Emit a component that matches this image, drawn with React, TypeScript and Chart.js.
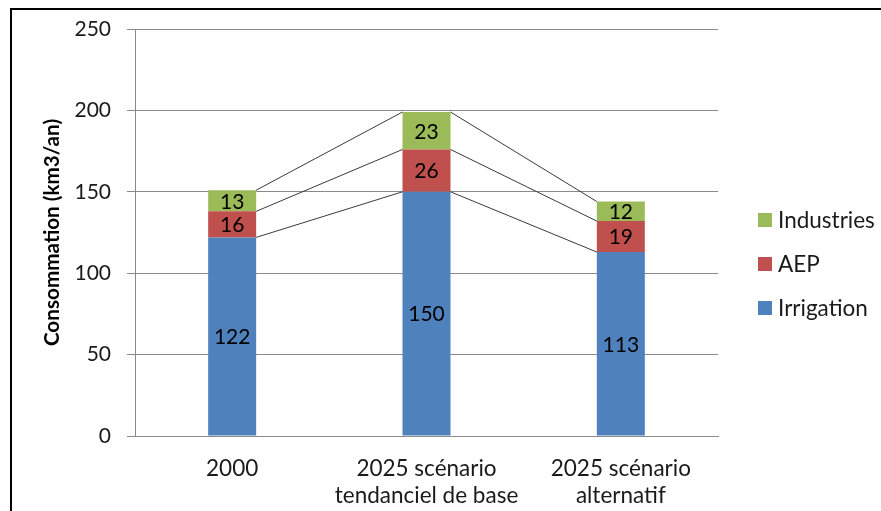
import React, { useEffect, useRef } from 'react';
import { Chart, registerables } from 'chart.js';

Chart.register(...registerables);

// Water consumption (km3/an) by use, for 2000 and the two 2025 scenarios
const categories: string[][] = [
  ['2000'],
  ['2025 scénario', 'tendanciel de base'],
  ['2025 scénario', 'alternatif'],
];
const seriesNames = ['Irrigation', 'AEP', 'Industries'];
const irrigation = [122, 150, 113];
const aep = [16, 26, 19];
const industries = [13, 23, 12];
const seriesColors = ['#4F81BD', '#C0504D', '#9BBB59'];
const yMax = 250;
const yStep = 50;
const yTitle = 'Consommation (km3/an)';

const FONT = 'Lato, "Open Sans", sans-serif';
const TEXT = '#1a1a1a';
const GRID = '#8a8a8a';

// Thin lines joining the top of each series from one bar to the next
const seriesLinesPlugin = {
  id: 'seriesLines',
  afterDatasetsDraw(chart: any) {
    const { ctx } = chart;
    ctx.save();
    ctx.strokeStyle = '#3a3a3a';
    ctx.lineWidth = 1;
    chart.data.datasets.forEach((_: any, i: number) => {
      const meta = chart.getDatasetMeta(i);
      if (meta.hidden) return;
      for (let j = 0; j < meta.data.length - 1; j++) {
        const a = meta.data[j].getProps(['x', 'y', 'width'], true);
        const b = meta.data[j + 1].getProps(['x', 'y', 'width'], true);
        ctx.beginPath();
        ctx.moveTo(a.x + a.width / 2, a.y);
        ctx.lineTo(b.x - b.width / 2, b.y);
        ctx.stroke();
      }
    });
    ctx.restore();
  },
};

// Value written in the middle of each stacked segment
const segmentLabelsPlugin = {
  id: 'segmentLabels',
  afterDatasetsDraw(chart: any) {
    const { ctx } = chart;
    ctx.save();
    ctx.font = `21px ${FONT}`;
    ctx.fillStyle = '#000';
    ctx.textAlign = 'center';
    ctx.textBaseline = 'middle';
    chart.data.datasets.forEach((ds: any, i: number) => {
      const meta = chart.getDatasetMeta(i);
      meta.data.forEach((el: any, j: number) => {
        const p = el.getProps(['x', 'y', 'base'], true);
        ctx.fillText(String(ds.data[j]), p.x, (p.y + p.base) / 2 + 1);
      });
    });
    ctx.restore();
  },
};

// Legend on the right, top series first
const sideLegendPlugin = {
  id: 'sideLegend',
  afterDraw(chart: any) {
    const { ctx, chartArea } = chart;
    const x0 = chartArea.right + 40;
    const midY = 264;
    const gap = 44;
    const items = chart.data.datasets.slice().reverse();
    ctx.save();
    ctx.font = `22.5px ${FONT}`;
    ctx.textBaseline = 'middle';
    ctx.textAlign = 'left';
    items.forEach((ds: any, k: number) => {
      const cy = midY + (k - (items.length - 1) / 2) * gap;
      ctx.fillStyle = ds.backgroundColor;
      ctx.fillRect(x0, cy - 7, 14, 14);
      ctx.fillStyle = TEXT;
      ctx.fillText(ds.label, x0 + 20, cy + 1);
    });
    ctx.restore();
  },
};

export default function App() {
  const canvasRef = useRef<HTMLCanvasElement | null>(null);

  useEffect(() => {
    if (!canvasRef.current) return;
    const values = [irrigation, aep, industries];
    const chart = new Chart(canvasRef.current, {
      type: 'bar',
      data: {
        labels: categories,
        datasets: seriesNames.map((name, i) => ({
          label: name,
          data: values[i],
          backgroundColor: seriesColors[i],
          borderWidth: 0,
          categoryPercentage: 1,
          barPercentage: 0.247,
        })),
      },
      options: {
        responsive: false,
        animation: false,
        events: [],
        layout: { padding: { left: 30, right: 163, top: 29, bottom: 0 } },
        plugins: {
          legend: { display: false },
          tooltip: { enabled: false },
          title: { display: false },
        },
        scales: {
          x: {
            stacked: true,
            grid: { display: false, drawTicks: false },
            border: { display: true, color: GRID, width: 1 },
            ticks: {
              padding: 19,
              color: TEXT,
              maxRotation: 0,
              autoSkip: false,
              font: { family: FONT, size: 22.5, lineHeight: 1.2 },
            },
            afterFit(scale: any) {
              scale.height = 75;
            },
          },
          y: {
            stacked: true,
            min: 0,
            max: yMax,
            ticks: {
              stepSize: yStep,
              padding: 16,
              color: TEXT,
              font: { family: FONT, size: 21 },
            },
            grid: { color: GRID, lineWidth: 1, tickLength: 8, drawTicks: true },
            border: { display: true, color: GRID, width: 1 },
            title: {
              display: true,
              text: yTitle,
              color: '#000',
              font: { family: FONT, size: 20.7, weight: 'bold', lineHeight: 1.2 },
              padding: { top: 9.6, bottom: 0 },
            },
            afterFit(scale: any) {
              scale.width = 105;
            },
          },
        },
      },
      plugins: [seriesLinesPlugin, segmentLabelsPlugin, sideLegendPlugin],
    });
    return () => chart.destroy();
  }, []);

  return (
    <div style={{ position: 'absolute', left: 0, top: 0, width: 881, height: 511, overflow: 'hidden', background: '#fff' }}>
      <canvas ref={canvasRef} width={881} height={511} style={{ display: 'block', width: 881, height: 511 }} />
      <div
        style={{
          position: 'absolute',
          left: 10,
          top: 8,
          width: 900,
          height: 520,
          borderLeft: '2px solid #000',
          borderTop: '2px solid #000',
          pointerEvents: 'none',
        }}
      />
    </div>
  );
}
